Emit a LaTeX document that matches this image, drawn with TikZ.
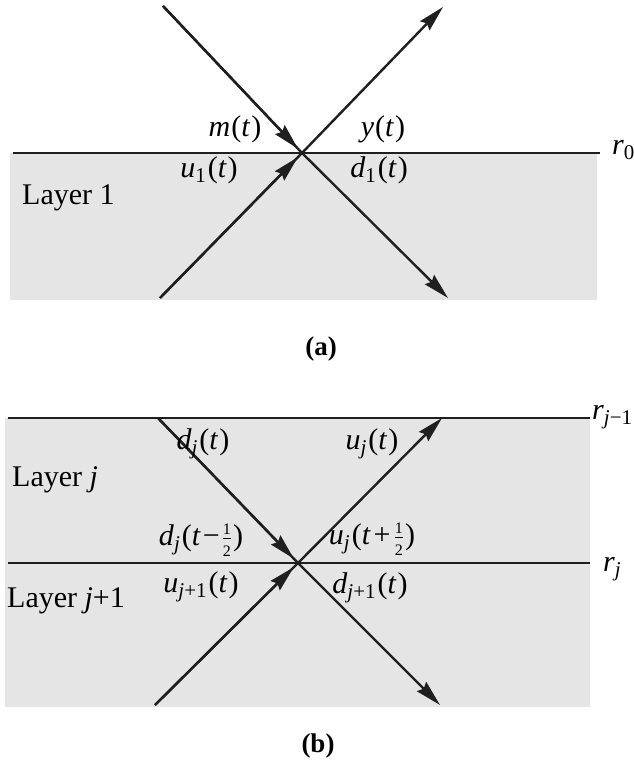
\RequirePackage{fix-cm}
\documentclass[tikz,border=0pt]{standalone}
\usepackage{fontspec}
\setmainfont{Liberation Serif}
\usetikzlibrary{arrows.meta,calc}
\newcommand{\vv}[1]{\textit{#1}}
\newcommand{\sbs}[1]{\textsubscript{#1}\kern1.5pt}
\newcommand{\half}{$\frac{\mbox{\fontsize{16}{16}\selectfont 1}}{\mbox{\fontsize{16}{16}\selectfont 2}}$}
\begin{document}
\begin{tikzpicture}[x=1pt,y=1pt,
  ray/.style={line width=2.4pt, draw=black!88},
  tip/.style={-{Stealth[length=26pt,width=13pt,inset=3pt]}},
  lab/.style={font=\fontsize{30}{34}\selectfont, inner sep=0pt, anchor=base},
  layerlab/.style={font=\fontsize{30}{34}\selectfont, inner sep=0pt, anchor=base west},
  layer/.style={fill=black!10, draw=none},
  captionlab/.style={font=\fontsize{27}{30}\selectfont\bfseries, inner sep=0pt}]
\useasboundingbox (0,0) rectangle (634,776);
% ---------- (a) ----------
\fill[layer] (10,476) rectangle (597,623);
\coordinate (r0l) at (13,623);
\coordinate (r0r) at (600,623);
\draw[ray] (r0l) -- (r0r);
\coordinate (X1) at (302,623);
\coordinate (Anw) at (163,770);
\coordinate (Ane) at (443,769);
\coordinate (Asw) at (160,478);
\coordinate (Ase) at (448,478);
\draw[ray] (Anw) -- (X1);
\draw[ray,tip,shorten >=6pt] (Anw) -- (X1);
\draw[ray,tip] (X1) -- (Ane);
\draw[ray] (Asw) -- (X1);
\draw[ray,tip,shorten >=6pt] (Asw) -- (X1);
\draw[ray,tip] (X1) -- (Ase);
\node[lab] (m) at (235,639) {\vv{m}\kern1pt(\vv{t}\kern1pt)};
\node[lab] (y) at (383,639) {\vv{y}\kern1pt(\vv{t}\kern1pt)};
\node[lab] (u1) at (209,598) {\vv{u}\sbs{1}(\vv{t}\kern1pt)};
\node[lab] (d1) at (379,598) {\vv{d}\sbs{1}(\vv{t}\kern1pt)};
\node[layerlab] (L1) at (22,571) {Layer 1};
\node[lab,anchor=base west] (r0) at (612,621) {\vv{r}\textsubscript{0}};
\node[captionlab] (capa) at (321,427) {(a)};
% ---------- (b) ----------
\fill[layer] (5,69) rectangle (590,358);
\coordinate (rjml) at (8,358);
\coordinate (rjmr) at (590,358);
\coordinate (rjl) at (8,213);
\coordinate (rjr) at (590,213);
\draw[ray] (rjml) -- (rjmr);
\draw[ray] (rjl) -- (rjr);
\coordinate (X2) at (298,213);
\coordinate (Bnw) at (158,358);
\coordinate (Bne) at (442,358);
\coordinate (Bsw) at (155,71);
\coordinate (Bse) at (440,71);
\draw[ray] (Bnw) -- (X2);
\draw[ray,tip,shorten >=6pt] (Bnw) -- (X2);
\draw[ray,tip] (X2) -- (Bne);
\draw[ray] (Bsw) -- (X2);
\draw[ray,tip,shorten >=6pt] (Bsw) -- (X2);
\draw[ray,tip] (X2) -- (Bse);
\node[lab] (dj) at (203,326) {\vv{d}\sbs{\vv{j}}(\vv{t}\kern1pt)};
\node[lab] (uj) at (372,326) {\vv{u}\sbs{\vv{j}}(\vv{t}\kern1pt)};
\node[layerlab] (Lj) at (12,289) {Layer \vv{j}};
\node[lab] (djm) at (201,230) {\vv{d}\sbs{\vv{j}}(\vv{t}\kern2pt−\kern2pt\half\kern1pt)};
\node[lab] (ujp) at (372,231) {\vv{u}\sbs{\vv{j}}(\vv{t}\kern3pt+\kern3pt\half\kern1pt)};
\node[lab] (uj1) at (201,183) {\vv{u}\sbs{\vv{j}+1}(\vv{t}\kern1pt)};
\node[lab] (dj1) at (370,182) {\vv{d}\sbs{\vv{j}+1}(\vv{t}\kern1pt)};
\node[layerlab] (Lj1) at (7,168) {Layer \vv{j}+1};
\node[lab,anchor=base west] (rj) at (603,204) {\vv{r}\textsubscript{\vv{j}}};
\node[lab,anchor=base west] (rjm) at (592,356) {\vv{r}\textsubscript{\vv{j}−1}};
\node[captionlab] (capb) at (318,30) {(b)};
\end{tikzpicture}
\end{document}
